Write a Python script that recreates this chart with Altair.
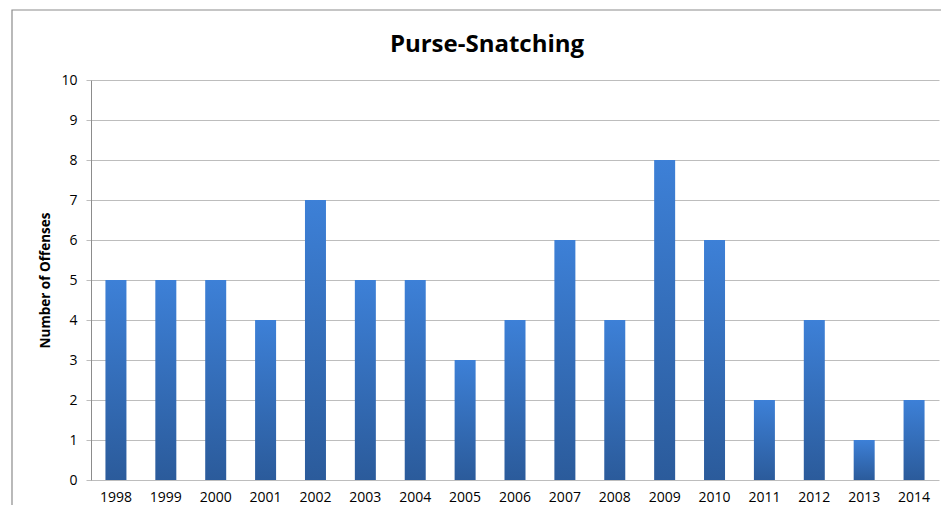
import altair as alt
import pandas as pd

years = ["1998", "1999", "2000", "2001", "2002", "2003", "2004", "2005", "2006",
         "2007", "2008", "2009", "2010", "2011", "2012", "2013", "2014"]
offenses = [5, 5, 5, 4, 7, 5, 5, 3, 4, 6, 4, 8, 6, 2, 4, 1, 2]
title_text = ["Purse-Snatching"]

df = pd.DataFrame({"Year": years, "Offenses": offenses})

FONT = "Open Sans"

frame = alt.Chart(pd.DataFrame({"k": [0]})).mark_rect(
    fill="white", fillOpacity=0, stroke="#8c8c8c", strokeWidth=1.2, clip=False
).encode(
    x=alt.value(-79), x2=alt.value(900), y=alt.value(-70), y2=alt.value(460)
)

title = alt.Chart(pd.DataFrame({"t": title_text})).mark_text(
    font=FONT, fontSize=24, fontWeight="bold", color="#000",
    align="center", baseline="middle", clip=False
).encode(text="t:N", x=alt.value(396), y=alt.value(-35))

bars = alt.Chart(df).mark_bar(
    fill=alt.Gradient(
        gradient="linear",
        stops=[alt.GradientStop(color="#3d80d7", offset=0),
               alt.GradientStop(color="#2b5b9b", offset=1)],
        x1=0, x2=0, y1=0, y2=1,
    ),
    size=21,
).encode(
    x=alt.X("Year:N", sort=years, title=None,
            scale=alt.Scale(paddingInner=0, paddingOuter=0),
            axis=alt.Axis(labelAngle=0, ticks=False, domain=False, labelPadding=10,
                          labelFontSize=14, labelFont=FONT, labelColor="#000")),
    y=alt.Y("Offenses:Q", title="Number of Offenses",
            scale=alt.Scale(domain=[0, 10], nice=False),
            axis=alt.Axis(values=list(range(0, 11)), grid=True,
                          gridColor="#bdbdbd", domainColor="#8c8c8c", tickColor="#bdbdbd",
                          tickSize=5, labelPadding=9, labelFontSize=14, labelFont=FONT,
                          labelColor="#000", titleFont=FONT, titleFontSize=13.5,
                          titleFontWeight="bold", titleColor="#000", titlePadding=8)),
)

chart = alt.layer(frame, bars, title).properties(
    width=848, height=400,
    autosize=alt.AutoSizeParams(type="none"),
    padding={"left": 83, "top": 72, "right": 2, "bottom": 25},
).configure_view(stroke=None)

chart.save("out.html", embed_options={"renderer": "svg", "actions": False})
